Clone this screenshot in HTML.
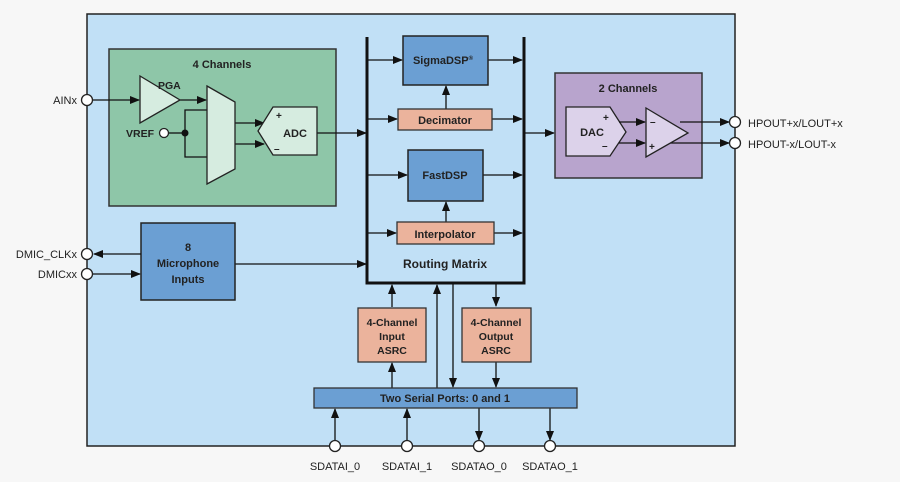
<!DOCTYPE html>
<html><head><style>
html,body{margin:0;padding:0;background:#f7f7f7;}
svg{display:block;font-family:"Liberation Sans",sans-serif;}
text{font-weight:bold;fill:#222;}
</style></head><body>
<svg width="900" height="482" viewBox="0 0 900 482" xmlns="http://www.w3.org/2000/svg">
<defs>
<marker id="a" markerWidth="10" markerHeight="8" refX="9" refY="4" orient="auto" markerUnits="userSpaceOnUse"><path d="M0,0 L10,4 L0,8 z" fill="#111"/></marker>
</defs>
<rect x="87" y="14" width="648" height="432" fill="#c1e0f6" stroke="#222" stroke-width="1.5"/>
<!-- green -->
<rect x="109" y="49" width="227" height="157" fill="#8ec6a8" stroke="#333" stroke-width="1.5"/>
<text x="222" y="68" font-size="11" text-anchor="middle">4 Channels</text>
<g stroke="#111" stroke-width="1.3" fill="none">
<line x1="92" y1="100" x2="139" y2="100" marker-end="url(#a)"/>
<line x1="180" y1="100" x2="206" y2="100" marker-end="url(#a)"/>
<line x1="169" y1="133" x2="185" y2="133"/>
<polyline points="207,110 185,110 185,157 207,157"/>
<line x1="235" y1="123" x2="264" y2="123" marker-end="url(#a)"/>
<line x1="235" y1="144" x2="264" y2="144" marker-end="url(#a)"/>
<line x1="317" y1="133" x2="366" y2="133" marker-end="url(#a)"/>
</g>
<polygon points="140,76 180,100 140,123" fill="#d6ece0" stroke="#222" stroke-width="1.3"/>
<text x="158" y="89" font-size="10.5">PGA</text>
<polygon points="207,86 235,102 235,169 207,184" fill="#d6ece0" stroke="#222" stroke-width="1.3"/>
<circle cx="185" cy="133" r="3.5" fill="#111"/>
<circle cx="164" cy="133" r="4.5" fill="#fff" stroke="#222" stroke-width="1.3"/>
<text x="126" y="137" font-size="10.5">VREF</text>
<polygon points="258,131 273,107 317,107 317,155 273,155" fill="#d6ece0" stroke="#222" stroke-width="1.3"/>
<text x="276" y="119" font-size="10">+</text><text x="274" y="152" font-size="10">–</text>
<text x="295" y="137" font-size="11" text-anchor="middle">ADC</text>
<circle cx="87" cy="100" r="5.5" fill="#fff" stroke="#222" stroke-width="1.3"/>
<text x="77" y="104" font-size="11" text-anchor="end" style="font-weight:normal">AINx</text>
<!-- routing -->
<polyline points="367,37 367,283 524,283 524,37" fill="none" stroke="#111" stroke-width="3"/>
<g stroke="#111" stroke-width="1.3">
<line x1="368" y1="60" x2="402" y2="60" marker-end="url(#a)"/>
<line x1="488" y1="60" x2="522" y2="60" marker-end="url(#a)"/>
<line x1="368" y1="119" x2="397" y2="119" marker-end="url(#a)"/>
<line x1="492" y1="119" x2="522" y2="119" marker-end="url(#a)"/>
<line x1="368" y1="175" x2="407" y2="175" marker-end="url(#a)"/>
<line x1="483" y1="175" x2="522" y2="175" marker-end="url(#a)"/>
<line x1="368" y1="233" x2="396" y2="233" marker-end="url(#a)"/>
<line x1="494" y1="233" x2="522" y2="233" marker-end="url(#a)"/>
<line x1="446" y1="109" x2="446" y2="86" marker-end="url(#a)"/>
<line x1="446" y1="222" x2="446" y2="202" marker-end="url(#a)"/>
<line x1="525" y1="133" x2="554" y2="133" marker-end="url(#a)"/>
<line x1="235" y1="264" x2="366" y2="264" marker-end="url(#a)"/>
</g>
<rect x="403" y="36" width="85" height="49" fill="#6b9fd3" stroke="#222" stroke-width="1.5"/>
<text x="443" y="64" font-size="11" text-anchor="middle">SigmaDSP<tspan font-size="6" dy="-4">®</tspan></text>
<rect x="398" y="109" width="94" height="21" fill="#ebb39c" stroke="#333" stroke-width="1.3"/>
<text x="445" y="124" font-size="11" text-anchor="middle">Decimator</text>
<rect x="408" y="150" width="75" height="51" fill="#6b9fd3" stroke="#222" stroke-width="1.5"/>
<text x="445" y="179" font-size="11" text-anchor="middle">FastDSP</text>
<rect x="397" y="222" width="97" height="22" fill="#ebb39c" stroke="#333" stroke-width="1.3"/>
<text x="445" y="238" font-size="11" text-anchor="middle">Interpolator</text>
<text x="445" y="268" font-size="12" text-anchor="middle">Routing Matrix</text>
<!-- purple -->
<rect x="555" y="73" width="147" height="105" fill="#b8a4cd" stroke="#333" stroke-width="1.5"/>
<text x="628" y="92" font-size="11" text-anchor="middle">2 Channels</text>
<polygon points="566,107 610,107 626,132 610,156 566,156" fill="#dcd2ea" stroke="#222" stroke-width="1.3"/>
<text x="592" y="136" font-size="11" text-anchor="middle">DAC</text>
<text x="603" y="121" font-size="10">+</text><text x="602" y="149" font-size="10">–</text>
<g stroke="#111" stroke-width="1.3">
<line x1="619" y1="122" x2="645" y2="122" marker-end="url(#a)"/>
<line x1="619" y1="143" x2="645" y2="143" marker-end="url(#a)"/>
<line x1="680" y1="122" x2="729" y2="122" marker-end="url(#a)"/>
<line x1="660" y1="143" x2="729" y2="143" marker-end="url(#a)"/>
</g>
<polygon points="646,108 688,133 646,157" fill="#dcd2ea" stroke="#222" stroke-width="1.3"/>
<text x="650" y="125" font-size="10">–</text><text x="649" y="150" font-size="10">+</text>
<circle cx="735" cy="122" r="5.5" fill="#fff" stroke="#222" stroke-width="1.3"/>
<circle cx="735" cy="143" r="5.5" fill="#fff" stroke="#222" stroke-width="1.3"/>
<text x="748" y="127" font-size="11" style="font-weight:normal">HPOUT+x/LOUT+x</text>
<text x="748" y="148" font-size="11" style="font-weight:normal">HPOUT-x/LOUT-x</text>
<!-- mic -->
<rect x="141" y="223" width="94" height="77" fill="#6b9fd3" stroke="#222" stroke-width="1.5"/>
<text x="188" y="251" font-size="11" text-anchor="middle">8</text>
<text x="188" y="267" font-size="11" text-anchor="middle">Microphone</text>
<text x="188" y="283" font-size="11" text-anchor="middle">Inputs</text>
<g stroke="#111" stroke-width="1.3">
<line x1="141" y1="254" x2="94" y2="254" marker-end="url(#a)"/>
<line x1="92" y1="274" x2="140" y2="274" marker-end="url(#a)"/>
</g>
<circle cx="87" cy="254" r="5.5" fill="#fff" stroke="#222" stroke-width="1.3"/>
<circle cx="87" cy="274" r="5.5" fill="#fff" stroke="#222" stroke-width="1.3"/>
<text x="77" y="258" font-size="11" text-anchor="end" style="font-weight:normal">DMIC_CLKx</text>
<text x="77" y="278" font-size="11" text-anchor="end" style="font-weight:normal">DMICxx</text>
<!-- bottom -->
<g stroke="#111" stroke-width="1.3">
<line x1="392" y1="307" x2="392" y2="285" marker-end="url(#a)"/>
<line x1="392" y1="388" x2="392" y2="363" marker-end="url(#a)"/>
<line x1="437" y1="388" x2="437" y2="285" marker-end="url(#a)"/>
<line x1="453" y1="284" x2="453" y2="387" marker-end="url(#a)"/>
<line x1="496" y1="284" x2="496" y2="306" marker-end="url(#a)"/>
<line x1="496" y1="362" x2="496" y2="387" marker-end="url(#a)"/>
<line x1="335" y1="441" x2="335" y2="409" marker-end="url(#a)"/>
<line x1="407" y1="441" x2="407" y2="409" marker-end="url(#a)"/>
<line x1="479" y1="408" x2="479" y2="440" marker-end="url(#a)"/>
<line x1="550" y1="408" x2="550" y2="440" marker-end="url(#a)"/>
</g>
<rect x="358" y="308" width="68" height="54" fill="#ebb39c" stroke="#333" stroke-width="1.3"/>
<text x="392" y="326" font-size="10.5" text-anchor="middle">4-Channel</text>
<text x="392" y="340" font-size="10.5" text-anchor="middle">Input</text>
<text x="392" y="354" font-size="10.5" text-anchor="middle">ASRC</text>
<rect x="462" y="308" width="69" height="54" fill="#ebb39c" stroke="#333" stroke-width="1.3"/>
<text x="496" y="326" font-size="10.5" text-anchor="middle">4-Channel</text>
<text x="496" y="340" font-size="10.5" text-anchor="middle">Output</text>
<text x="496" y="354" font-size="10.5" text-anchor="middle">ASRC</text>
<rect x="314" y="388" width="263" height="20" fill="#6b9fd3" stroke="#333" stroke-width="1.3"/>
<text x="445" y="402" font-size="11" text-anchor="middle">Two Serial Ports: 0 and 1</text>
<g fill="#fff" stroke="#222" stroke-width="1.3">
<circle cx="335" cy="446" r="5.5"/><circle cx="407" cy="446" r="5.5"/>
<circle cx="479" cy="446" r="5.5"/><circle cx="550" cy="446" r="5.5"/>
</g>
<g font-size="11" text-anchor="middle" style="font-weight:normal">
<text x="335" y="470" style="font-weight:normal">SDATAI_0</text>
<text x="407" y="470" style="font-weight:normal">SDATAI_1</text>
<text x="479" y="470" style="font-weight:normal">SDATAO_0</text>
<text x="550" y="470" style="font-weight:normal">SDATAO_1</text>
</g>
</svg>
</body></html>
